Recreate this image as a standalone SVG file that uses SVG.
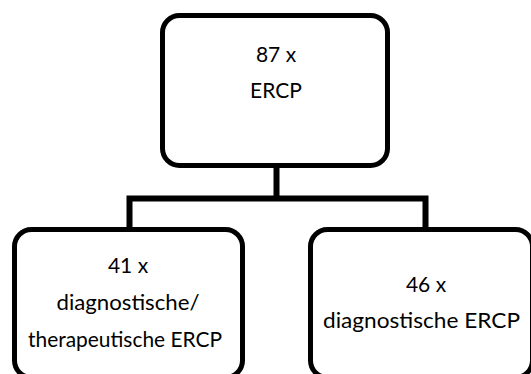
<svg xmlns="http://www.w3.org/2000/svg" width="531" height="374" viewBox="0 0 531 374">
<style>
.box{fill:#fff;stroke:#000;stroke-width:5}
.con{fill:none;stroke:#000;stroke-width:6;stroke-linejoin:miter}
text{font-family:Lato,"Open Sans","Liberation Sans",sans-serif;font-size:21px;fill:#000;text-anchor:middle}
</style>
<rect width="531" height="374" fill="#fff"/>
<g id="connectors">
<path class="con" d="M276.5,166 V198.5 M129.5,229 V198.5 H425.5 V229"/>
</g>
<g id="top">
<rect class="box" x="162.5" y="15.5" width="225" height="150" rx="17" ry="17"/>
<text x="276" y="62">87 x</text>
<text x="276" y="98">ERCP</text>
</g>
<g id="left">
<rect class="box" x="14.5" y="229.5" width="228" height="148" rx="17" ry="17"/>
<text x="128" y="273">41 x</text>
<text x="128" y="310" textLength="143" lengthAdjust="spacingAndGlyphs">diagnostische/</text>
<text x="125" y="347" textLength="194" lengthAdjust="spacingAndGlyphs">therapeutische ERCP</text>
</g>
<g id="right">
<rect class="box" x="310.5" y="229.5" width="222" height="148" rx="17" ry="17"/>
<text x="426" y="292">46 x</text>
<text x="421.5" y="328" textLength="197" lengthAdjust="spacingAndGlyphs">diagnostische ERCP</text>
</g>
</svg>
